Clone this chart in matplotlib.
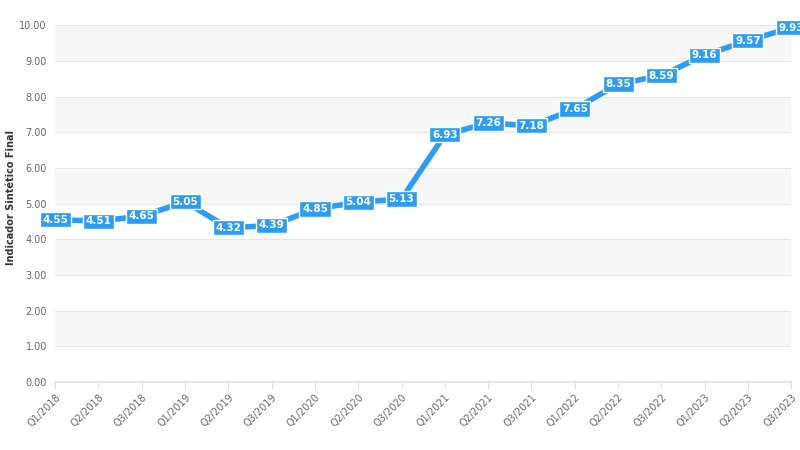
import matplotlib
matplotlib.use('Agg')
import matplotlib.pyplot as plt

# data
quarters = ['Q1/2018', 'Q2/2018', 'Q3/2018', 'Q1/2019', 'Q2/2019', 'Q3/2019',
            'Q1/2020', 'Q2/2020', 'Q3/2020', 'Q1/2021', 'Q2/2021', 'Q3/2021',
            'Q1/2022', 'Q2/2022', 'Q3/2022', 'Q1/2023', 'Q2/2023', 'Q3/2023']
indicador = [4.55, 4.51, 4.65, 5.05, 4.32, 4.39, 4.85, 5.04, 5.13,
             6.93, 7.26, 7.18, 7.65, 8.35, 8.59, 9.16, 9.57, 9.93]
y_ticks = [0, 1, 2, 3, 4, 5, 6, 7, 8, 9, 10]

blue = '#2d9cf4'

fig = plt.figure(figsize=(8, 4.5), dpi=100)
ax = fig.add_axes([0.069, 0.151, 0.92, 0.793])

x = list(range(len(quarters)))
ax.set_xlim(0, len(quarters) - 1)
ax.set_ylim(0, 10)

# alternating bands
for lo in y_ticks[1:-1:2]:
    ax.axhspan(lo, lo + 1, color='#f7f7f7', zorder=0, lw=0)
for t in y_ticks:
    ax.axhline(t, color='#e6e6e6', lw=0.8, zorder=1)

ax.plot(x, indicador, color=blue, lw=4, solid_joinstyle='round', zorder=3)

for xi, v in zip(x, indicador):
    ax.text(xi, v, f'{v:.2f}', ha='center', va='center', color='white',
            fontsize=7.5, fontweight='bold', zorder=5, clip_on=False,
            bbox=dict(boxstyle='square,pad=0.25', fc=blue, ec='white', lw=1))

ax.set_yticks(y_ticks)
ax.set_yticklabels([f'{t:.2f}' for t in y_ticks])
ax.set_xticks(x)
ax.set_xticklabels(quarters, rotation=45, ha='right', rotation_mode='anchor')

ax.tick_params(axis='y', length=0, labelsize=7, labelcolor='#666666', pad=6)
ax.tick_params(axis='x', length=5, width=0.8, color='#e0e0e0',
               labelsize=7, labelcolor='#666666', pad=2)

for s in ['top', 'right', 'left']:
    ax.spines[s].set_visible(False)
ax.spines['bottom'].set_color('#e0e0e0')
ax.spines['bottom'].set_linewidth(1.2)

fig.text(0.014, 0.562, 'Indicador Sintético Final',
         rotation=90, ha='center', va='center', fontsize=7,
         fontweight='bold', color='#333333')

fig.savefig('out.png', dpi=100)
